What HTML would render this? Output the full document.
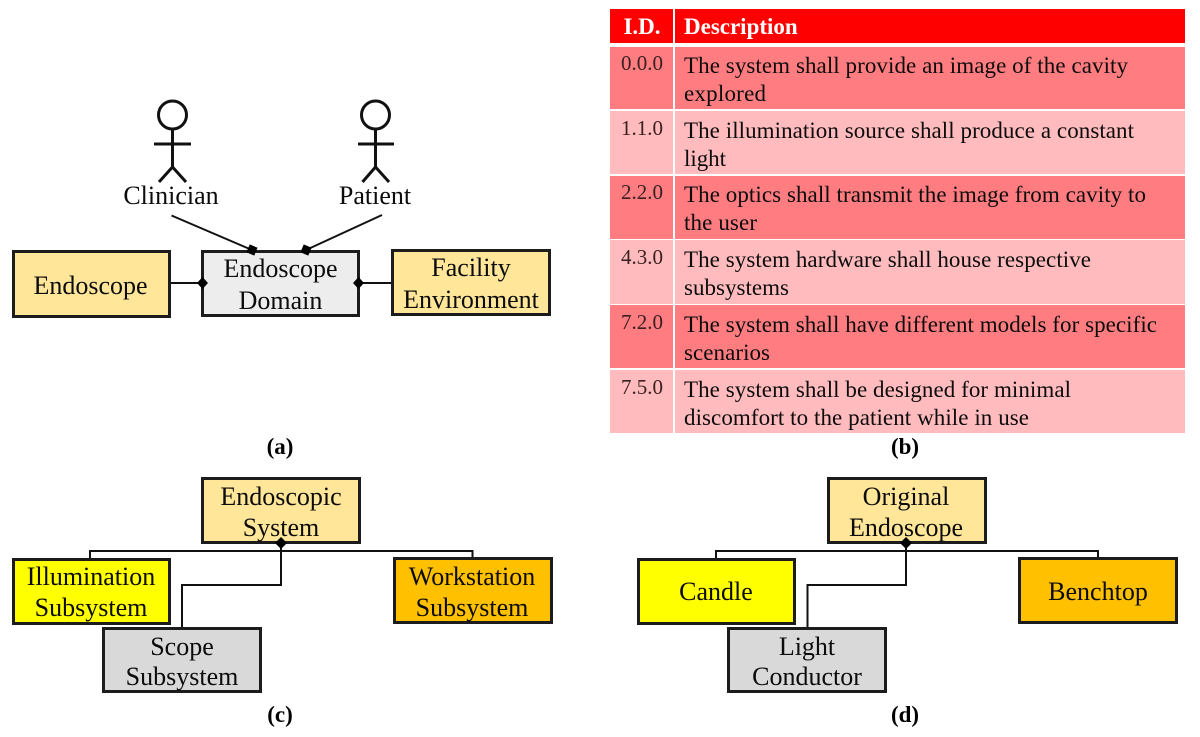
<!DOCTYPE html>
<html>
<head>
<meta charset="utf-8">
<style>
html,body{margin:0;padding:0;background:#fff;width:1200px;height:737px;overflow:hidden}
svg{display:block}
text{font-family:"Liberation Serif",serif;fill:#0c0c0c}
.n{font-size:26px;text-anchor:middle}
.d{font-size:23px}
.i{font-size:21px;text-anchor:middle;fill:#3a2020}
.c{font-size:23px;font-weight:bold;text-anchor:middle;fill:#000}
.b{stroke:#1c1c1c;stroke-width:3}
.l{stroke:#111;stroke-width:2;fill:none}
.a{stroke:#111;stroke-width:3;fill:none}
.soft{filter:blur(0.35px)}
</style>
</head>
<body>
<svg width="1200" height="737" viewBox="0 0 1200 737" xmlns="http://www.w3.org/2000/svg">
<rect width="1200" height="737" fill="#fff"/>
<g class="soft">

<!-- (a) actors -->
<g class="a">
<circle cx="172.5" cy="115" r="14"/>
<path d="M172.5 129V167M154 144H191M159 182L172.5 167L186 182"/>
<circle cx="375.5" cy="115" r="14"/>
<path d="M375.5 129V167M358 144H394M362.5 182L375.5 167L389 182"/>
</g>
<text class="n" x="171" y="204">Clinician</text>
<text class="n" x="375" y="204">Patient</text>

<!-- (a) connectors -->
<path class="l" d="M171.5 215.5L252 250M382 215L306 250M170 283H202M358 283H392"/>
<rect class="b" x="13.5" y="251.5" width="156" height="65" fill="#FFE699"/>
<rect class="b" x="202.5" y="251.5" width="156" height="64" fill="#EDEDED"/>
<rect class="b" x="392.5" y="250.5" width="157" height="64" fill="#FFE699"/>
<path d="M252 244L258 250L252 256L246 250Z" fill="#000" transform="rotate(-22 252 250)"/>
<path d="M306 244L312 250L306 256L300 250Z" fill="#000" transform="rotate(-22 306 250)"/>
<path d="M202.500 277L208 283L202.500 289L197 283Z" fill="#000"/>
<path d="M358.500 277L364 283L358.500 289L353 283Z" fill="#000"/>
<text class="n" x="90.500" y="294">Endoscope</text>
<text class="n" x="280.500" y="277">Endoscope</text>
<text class="n" x="280.500" y="309">Domain</text>
<text class="n" x="471" y="276">Facility</text>
<text class="n" x="471" y="308">Environment</text>
<text class="c" x="280" y="454">(a)</text>

<!-- (b) table -->
<rect x="610" y="9" width="63" height="34" fill="#FF0000"/>
<rect x="675" y="9" width="510" height="34" fill="#FF0000"/>
<g fill="#FF7C80">
<rect x="610" y="47" width="63" height="62"/><rect x="675" y="47" width="510" height="62"/>
<rect x="610" y="176" width="63" height="63"/><rect x="675" y="176" width="510" height="63"/>
<rect x="610" y="305" width="63" height="63"/><rect x="675" y="305" width="510" height="63"/>
</g>
<g fill="#FFBBBD">
<rect x="610" y="111" width="63" height="63"/><rect x="675" y="111" width="510" height="63"/>
<rect x="610" y="240" width="63" height="64"/><rect x="675" y="240" width="510" height="64"/>
<rect x="610" y="370" width="63" height="63"/><rect x="675" y="370" width="510" height="63"/>
</g>
<text x="642" y="34" font-size="23" font-weight="bold" text-anchor="middle" style="fill:#fff">I.D.</text>
<text x="684" y="34" font-size="23" font-weight="bold" style="fill:#fff">Description</text>

<text class="i" x="642" y="70">0.0.0</text>
<text class="d" x="684" y="73" textLength="444">The system shall provide an image of the cavity</text>
<text class="d" x="684" y="101" textLength="82">explored</text>

<text class="i" x="642" y="135">1.1.0</text>
<text class="d" x="684" y="138" textLength="450">The illumination source shall produce a constant</text>
<text class="d" x="684" y="166" textLength="42">light</text>

<text class="i" x="642" y="199">2.2.0</text>
<text class="d" x="684" y="202" textLength="462">The optics shall transmit the image from cavity to</text>
<text class="d" x="684" y="230" textLength="73">the user</text>

<text class="i" x="642" y="264">4.3.0</text>
<text class="d" x="684" y="267" textLength="407">The system hardware shall house respective</text>
<text class="d" x="684" y="295" textLength="105">subsystems</text>

<text class="i" x="642" y="329">7.2.0</text>
<text class="d" x="684" y="332" textLength="473">The system shall have different models for specific</text>
<text class="d" x="684" y="360" textLength="86">scenarios</text>

<text class="i" x="642" y="394">7.5.0</text>
<text class="d" x="684" y="397" textLength="387">The system shall be designed for minimal</text>
<text class="d" x="684" y="425" textLength="345">discomfort to the patient while in use</text>
<text class="c" x="905" y="454">(b)</text>

<!-- (c) -->
<path class="l" d="M90 559V551H472.500V558M281 543V585H182V627"/>
<rect class="b" x="202.500" y="478.500" width="157" height="64" fill="#FFE699"/>
<rect class="b" x="13.500" y="559.500" width="156" height="64" fill="#FFFF00"/>
<rect class="b" x="103.500" y="628.500" width="157" height="63" fill="#D9D9D9"/>
<rect class="b" x="394.500" y="558.500" width="157" height="64" fill="#FFC000"/>
<path d="M281 537L287 543L281 549L275 543Z" fill="#000"/>
<text class="n" x="281" y="505">Endoscopic</text>
<text class="n" x="281" y="536">System</text>
<text class="n" x="91" y="585">Illumination</text>
<text class="n" x="91" y="616">Subsystem</text>
<text class="n" x="182" y="655">Scope</text>
<text class="n" x="182" y="685">Subsystem</text>
<text class="n" x="472" y="585">Workstation</text>
<text class="n" x="472" y="616">Subsystem</text>
<text class="c" x="280" y="722">(c)</text>

<!-- (d) -->
<path class="l" d="M716 559V551H1098V558M906 543V585H807.500V627"/>
<rect class="b" x="828.500" y="478.500" width="157" height="64" fill="#FFE699"/>
<rect class="b" x="638.500" y="559.500" width="156" height="64" fill="#FFFF00"/>
<rect class="b" x="728.500" y="628.500" width="157" height="63" fill="#D9D9D9"/>
<rect class="b" x="1019.500" y="558.500" width="157" height="64" fill="#FFC000"/>
<path d="M906 537L912 543L906 549L900 543Z" fill="#000"/>
<text class="n" x="906" y="505">Original</text>
<text class="n" x="906" y="536">Endoscope</text>
<text class="n" x="716" y="600">Candle</text>
<text class="n" x="807" y="655">Light</text>
<text class="n" x="807" y="685">Conductor</text>
<text class="n" x="1098" y="600">Benchtop</text>
<text class="c" x="905" y="722">(d)</text>
</g>
</svg>
</body>
</html>
